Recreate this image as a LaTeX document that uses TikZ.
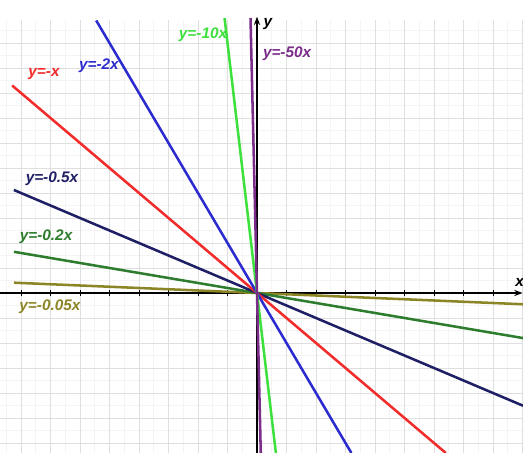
\documentclass[tikz,border=0pt]{standalone}
\usepackage{fontspec}
\setsansfont{Liberation Sans}
\usetikzlibrary{arrows.meta}
\definecolor{redc}{HTML}{F22B2B}
\definecolor{bluec}{HTML}{2B2BD0}
\definecolor{lgreenc}{HTML}{3EE03E}
\definecolor{purplec}{HTML}{7A2E8A}
\definecolor{navyc}{HTML}{1F1F66}
\definecolor{dgreenc}{HTML}{2E7D2E}
\definecolor{olivec}{HTML}{8C8526}
\tikzset{
  gridmaj/.style={draw=gray!25, line width=0.6pt},
  gridmin/.style={draw=gray!9, line width=0.4pt},
  graph/.style={line width=1.9pt},
  lbl/.style={font=\sffamily\bfseries\itshape\fontsize{11.5}{12}\selectfont, inner sep=0pt},
  axis/.style={line width=0.9pt, -{Stealth[length=2.2mm]}},
}

\begin{document}
\begin{tikzpicture}[x=22.125pt, y=18.75pt]
  \useasboundingbox (-8.712,-6.4) rectangle (9.017,11.72);
  \clip (-8.712,-6.4) rectangle (9.017,11.72);
  % grid
  \foreach \i in {-8.5,-7.5,...,8.5} \draw[gridmin] (\i,-6.4) -- (\i,10.9);
  \foreach \j in {-6.5,-5.5,...,10.5} \draw[gridmin] (-8.712,\j) -- (9.017,\j);
  \foreach \i in {-8,...,9} \draw[gridmaj] (\i,-6.4) -- (\i,10.9);
  \foreach \j in {-6,...,10} \draw[gridmaj] (-8.712,\j) -- (9.017,\j);
  % axes
  \coordinate (xs) at (-8.712,0);
  \coordinate (xe) at (9.0,0);
  \coordinate (ys) at (0,-6.4);
  \coordinate (ye) at (0,11.05);
  \draw[axis] (xs) -- (xe);
  \draw[axis] (ys) -- (ye);
  \foreach \i in {-8,...,8} \draw[line width=0.5pt] (\i,-0.12) -- (\i,0.12);
  \node[lbl, text=black] (ylbl) at (0.37,10.76) {y};
  \node[lbl, text=black] (xlbl) at (8.9,0.44) {x};
  % graphs
  \draw[graph, olivec] (-8.24,0.412) -- (9.017,-0.4509);
  \draw[graph, dgreenc] (-8.24,1.648) -- (9.017,-1.803);
  \draw[graph, navyc] (-8.24,4.12) -- (9.017,-4.509);
  \draw[graph, redc] (-8.3,8.3) -- (6.4,-6.4);
  \draw[graph, bluec] (-5.45,10.9) -- (3.2,-6.4);
  \draw[graph, lgreenc] (-1.1,11) -- (0.64,-6.4);
  \draw[graph, purplec] (-0.22,11) -- (0.128,-6.4);
  % labels
  \node[lbl, text=redc] (lred) at (-7.22,8.76) {y=-x};
  \node[lbl, text=bluec] (lblue) at (-5.36,9.08) {y=-2x};
  \node[lbl, text=lgreenc] (llgreen) at (-1.83,10.32) {y=-10x};
  \node[lbl, text=purplec] (lpurple) at (1.02,9.56) {y=-50x};
  \node[lbl, text=navyc] (lnavy) at (-6.95,4.56) {y=-0.5x};
  \node[lbl, text=dgreenc] (ldgreen) at (-7.15,2.24) {y=-0.2x};
  \node[lbl, text=olivec] (lolive) at (-7.02,-0.55) {y=-0.05x};
\end{tikzpicture}
\end{document}
